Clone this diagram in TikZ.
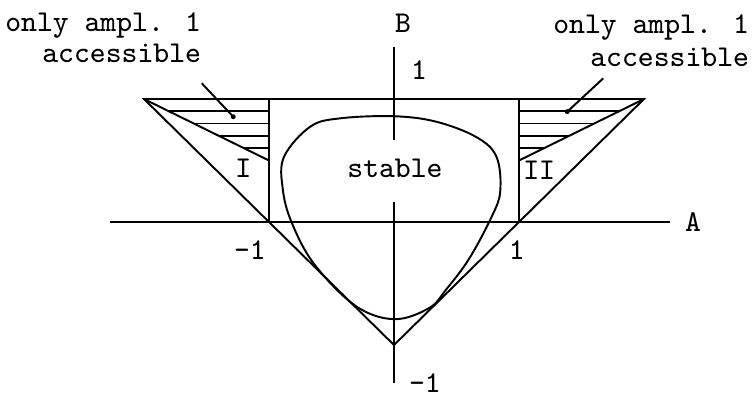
\documentclass[tikz,border=0pt]{standalone}
\usepackage{fontspec}
\begin{document}
\begin{tikzpicture}[x=12.5mm,y=12.3mm,line width=0.55pt,
  font=\ttfamily\fontsize{8.6}{8.8}\selectfont,
  every node/.style={inner sep=0pt},
  hatch/.style={line width=0.5pt}]
  \useasboundingbox (-3.152,-1.415) rectangle (2.888,1.805);
  % corners of the regions
  \coordinate (TL) at (-2,1); \coordinate (TR) at (2,1); \coordinate (V) at (0,-1);
  \coordinate (L1) at (-1,1); \coordinate (R1) at (1,1);
  \coordinate (L0) at (-1,0); \coordinate (R0) at (1,0);
  \coordinate (Lm) at (-1,0.5); \coordinate (Rm) at (1,0.5);
  % axes
  \coordinate (Aw) at (-2.272,0); \coordinate (Ae) at (2.208,0);
  \coordinate (Bn) at (0,1.425); \coordinate (Bg1) at (0,0.667);
  \coordinate (Bg2) at (0,0.163); \coordinate (Bs) at (0,-1.309);
  \draw (Aw) -- (Ae); \draw (Bn) -- (Bg1); \draw (Bg2) -- (Bs);
  \node (Albl) at (2.392,0) {A};
  \node (Blbl) at (0.072,1.618) {B};
  \node (Bone) at (0.2,1.236) {1};
  \node (Bmone) at (0.248,-1.309) {-1};
  \node (Amone) at (-1.152,-0.228) {-1};
  \node (Aone) at (0.982,-0.228) {1};
  % triangle and the two side regions
  \draw (TL) -- (TR) -- (V) -- cycle;
  \draw (L1) -- (L0); \draw (R1) -- (R0);
  \draw (TL) -- (Lm); \draw (TR) -- (Rm);
  \foreach \b in {0.6,0.7,0.8,0.9}{
    \draw[hatch] (-2*\b,\b) -- (-1,\b);
    \draw[hatch] (2*\b,\b) -- (1,\b);}
  \node (regI) at (-1.206,0.437) {I};
  \node (regII) at (1.162,0.417) {II};
  % stable region
  \draw plot[smooth cycle,tension=0.6] coordinates {(0,0.86) (0.34,0.815) (0.66,0.69)
    (0.82,0.53) (0.85,0.25) (0.78,0.04) (0.6,-0.3) (0.42,-0.545) (0.28,-0.7) (0,-0.79)
    (-0.31,-0.68) (-0.64,-0.34) (-0.82,0) (-0.89,0.27) (-0.88,0.53) (-0.67,0.775)
    (-0.43,0.843)};
  \node (stab) at (0.008,0.437) {stable};
  % labels with leaders
  \node[anchor=base east] (lonly) at (-1.536,1.547) {only ampl. 1};
  \node[anchor=base east] (lacc) at (-1.536,1.293) {accessible};
  \node[anchor=base east] (ronly) at (2.848,1.53) {only ampl. 1};
  \node[anchor=base east] (racc) at (2.848,1.265) {accessible};
  \coordinate (lend) at (-1.538,1.128); \coordinate (ldot) at (-1.286,0.856);
  \coordinate (rend) at (1.674,1.168); \coordinate (rdot) at (1.386,0.897);
  \draw (lend) -- (ldot); \fill (ldot) circle (0.7pt);
  \draw (rend) -- (rdot); \fill (rdot) circle (0.7pt);
\end{tikzpicture}
\end{document}
